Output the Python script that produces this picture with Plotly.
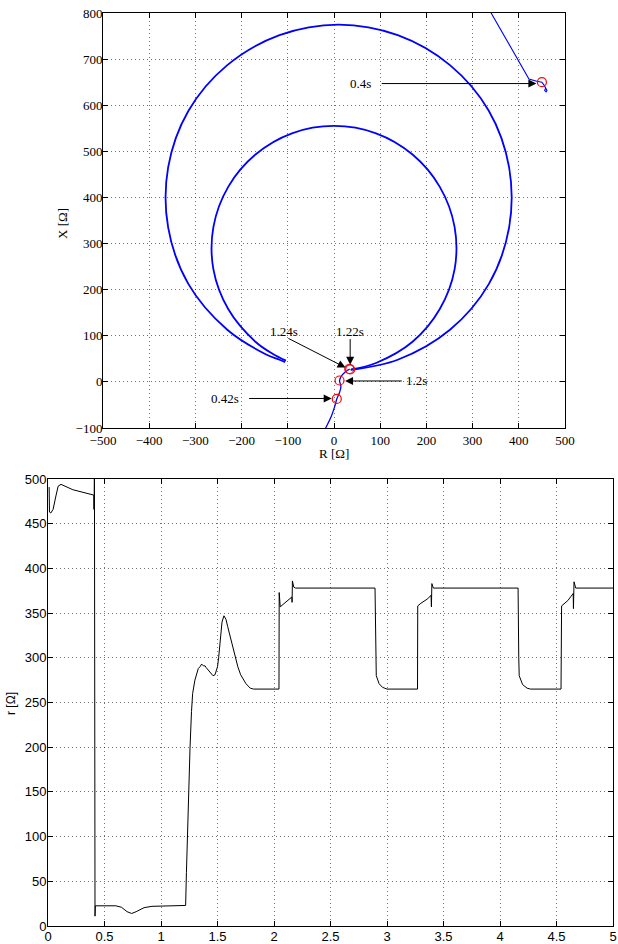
import plotly.graph_objects as go

# ---------------- data: top plot (impedance trajectory R-X) ----------------
# trajectory before 0.4 s (enters from above, ends with a small loop)
pre_R = [300, 340, 422, 439, 450, 455, 459, 461, 459, 456, 458]
pre_X = [870, 800, 657, 652, 650, 643, 636, 632, 629, 632, 637]

# trajectory from 0.42 s up to 1.22 s
mid_R = [-30, -18, -6, 2, 6, 12, 15, 13, 12, 17, 25, 34]
mid_X = [-125, -100, -75, -52, -37, -23, -10, -2, 3, 14, 22, 28]

# outer loop (after 1.22 s)
outer_R = [36, 138, 251, 335, 379, 379, 335, 251, 138, 10, -118, -231, -315,
           -359, -359, -315, -231, -148, -118, -106]
outer_X = [26, 48, 113, 212, 335, 465, 588, 687, 752, 775, 752, 687, 588,
           465, 335, 212, 113, 60, 48, 43]

# inner loop (after 1.24 s)
inner_R = [37, 91, 170, 229, 261, 261, 229, 170, 91, 0, -91, -170, -229,
           -261, -261, -229, -170, -133, -104]
inner_X = [27, 41, 87, 158, 244, 336, 423, 493, 539, 555, 539, 493, 423,
           336, 244, 158, 87, 61, 46]

# time-instant markers
mark_labels = ["0.4s", "0.42s", "1.2s", "1.22s", "1.24s"]
mark_R = [450, 6, 12, 33, 35]
mark_X = [650, -37, 3, 28, 27]

# ---------------- data: bottom plot r(t) ----------------
t_vals = [0.010, 0.013, 0.025, 0.045, 0.07, 0.09, 0.115, 0.22, 0.405, 0.407,
          0.409, 0.411, 0.416, 0.419, 0.60, 0.65, 0.70, 0.74, 0.78, 0.85,
          0.92, 1.00, 1.218, 1.225, 1.233, 1.245, 1.257, 1.27, 1.28, 1.30,
          1.31, 1.33, 1.345, 1.36, 1.375, 1.39, 1.40, 1.43, 1.46, 1.478,
          1.50, 1.51, 1.525, 1.54, 1.557, 1.575, 1.59, 1.61, 1.635, 1.655,
          1.68, 1.705, 1.73, 1.752, 1.79, 1.82, 2.044, 2.046, 2.055, 2.10,
          2.158, 2.160, 2.163, 2.175, 2.19, 2.894, 2.90, 2.905, 2.93, 2.96,
          3.0, 3.27, 3.272, 3.30, 3.36, 3.39, 3.393, 3.397, 3.41, 4.16,
          4.166, 4.17, 4.20, 4.24, 4.27, 4.54, 4.545, 4.60, 4.63, 4.648,
          4.65, 4.655, 4.67, 5.0]
r_vals = [491, 463, 462, 466, 481, 492, 494, 488, 482, 466,
          482, 520, 11, 22.6, 22.6, 21, 16, 14, 16, 20.5,
          22, 22.5, 23, 60, 100, 150, 200, 240, 260, 275,
          279, 288, 290, 293, 291, 291, 289, 284, 280, 281,
          290, 300, 325, 340, 347, 343, 335, 325, 311, 300,
          290, 281, 275, 271, 266, 265, 265, 373, 357, 362,
          368, 362, 386, 379, 378, 378, 300, 280, 271, 267,
          265, 265, 358, 361, 366, 370, 357, 383, 378, 378,
          300, 280, 270, 266, 265, 265, 358, 364, 369, 372,
          355, 385, 378, 378]

# ---------------- figure ----------------
W, H = 618, 944


def fx(p):
    return p / W


def fy(p):
    return 1 - p / H


fig = go.Figure()

blue = "rgb(0,0,255)"
fig.add_trace(go.Scatter(x=pre_R, y=pre_X, mode="lines",
                         line=dict(color=blue, width=1.1), xaxis="x", yaxis="y"))
fig.add_trace(go.Scatter(x=mid_R, y=mid_X, mode="lines", line_shape="spline",
                         line=dict(color=blue, width=1.3), xaxis="x", yaxis="y"))
fig.add_trace(go.Scatter(x=outer_R, y=outer_X, mode="lines", line_shape="spline",
                         line=dict(color=blue, width=1.8), xaxis="x", yaxis="y"))
fig.add_trace(go.Scatter(x=inner_R, y=inner_X, mode="lines", line_shape="spline",
                         line=dict(color=blue, width=1.8), xaxis="x", yaxis="y"))
fig.add_trace(go.Scatter(x=mark_R, y=mark_X, mode="markers",
                         marker=dict(symbol="circle-open", size=9,
                                     color="red", line=dict(width=1.2, color="red")),
                         xaxis="x", yaxis="y", cliponaxis=False))
fig.add_trace(go.Scatter(x=t_vals, y=r_vals, mode="lines",
                         line=dict(color="black", width=1), xaxis="x2", yaxis="y2"))

serif = "Liberation Serif"
sans = "Liberation Sans"
axis_common = dict(showline=True, linecolor="black", linewidth=1, mirror="ticks",
                   ticks="inside", ticklen=5, tickcolor="black", tickwidth=1,
                   showgrid=True, gridcolor="rgba(0,0,0,0.55)", gridwidth=1,
                   griddash="1px,3px", zeroline=False, automargin=False,
                   ticklabeloverflow="allow")

fig.update_layout(
    width=W, height=H,
    margin=dict(l=0, r=0, t=0, b=0, pad=0, autoexpand=False),
    paper_bgcolor="white", plot_bgcolor="white",
    showlegend=False,
    xaxis=dict(domain=[fx(103), fx(565)], range=[-500, 500], dtick=100,
               tickfont=dict(family=serif, size=13, color="black"),
               anchor="y", **axis_common),
    yaxis=dict(domain=[fy(428), fy(13)], range=[-100, 800], dtick=100,
               tickfont=dict(family=serif, size=13, color="black"),
               ticklabelstandoff=-3, anchor="x", **axis_common),
    xaxis2=dict(domain=[fx(48), fx(613)], range=[0, 5], dtick=0.5,
                tickfont=dict(family=sans, size=13, color="black"),
                ticklabelstandoff=-2, anchor="y2", **axis_common),
    yaxis2=dict(domain=[fy(926), fy(479)], range=[0, 500], dtick=50,
                tickfont=dict(family=sans, size=13, color="black"),
                ticklabelstandoff=-2, anchor="x2", **axis_common),
)

annots = []
# axis titles
annots.append(dict(text="R [Ω]", x=fx(334), y=fy(453), xref="paper", yref="paper",
                   xanchor="center", yanchor="middle", showarrow=False,
                   font=dict(family=serif, size=13, color="black")))
annots.append(dict(text="X [Ω]", x=fx(62), y=fy(224), xref="paper", yref="paper",
                   xanchor="center", yanchor="middle", showarrow=False, textangle=-90,
                   font=dict(family=serif, size=13, color="black")))
annots.append(dict(text="r [Ω]", x=fx(11), y=fy(704), xref="paper", yref="paper",
                   xanchor="center", yanchor="middle", showarrow=False, textangle=-90,
                   font=dict(family=sans, size=12, color="black")))

# labels of time instants
label_pos = {"0.4s": (57, 647), "0.42s": (-235, -36), "1.2s": (178, 2),
             "1.22s": (35, 109), "1.24s": (-108, 109)}
for lab in mark_labels:
    lx, ly = label_pos[lab]
    annots.append(dict(text=lab, x=lx, y=ly, xref="x", yref="y", showarrow=False,
                       xanchor="center", yanchor="middle",
                       font=dict(family=serif, size=13, color="black")))

# arrows (tail -> head)
arrows = [((100, 647), (438, 647)), ((-187, -36), (-5, -36)), ((150, 2), (24, 2)),
          ((35, 96), (35, 37)), ((-102, 96), (25, 31))]
for (tx, ty), (hx, hy) in arrows:
    annots.append(dict(text="", x=hx, y=hy, ax=tx, ay=ty, xref="x", yref="y",
                       axref="x", ayref="y", showarrow=True, arrowhead=2,
                       arrowsize=1.6, arrowwidth=1, arrowcolor="black", standoff=0))

fig.update_layout(annotations=annots)
fig.write_html("out.html",
               config={"displayModeBar": False},
               post_script="document.body.style.margin='0';"
                           "document.body.style.overflow='hidden';")
